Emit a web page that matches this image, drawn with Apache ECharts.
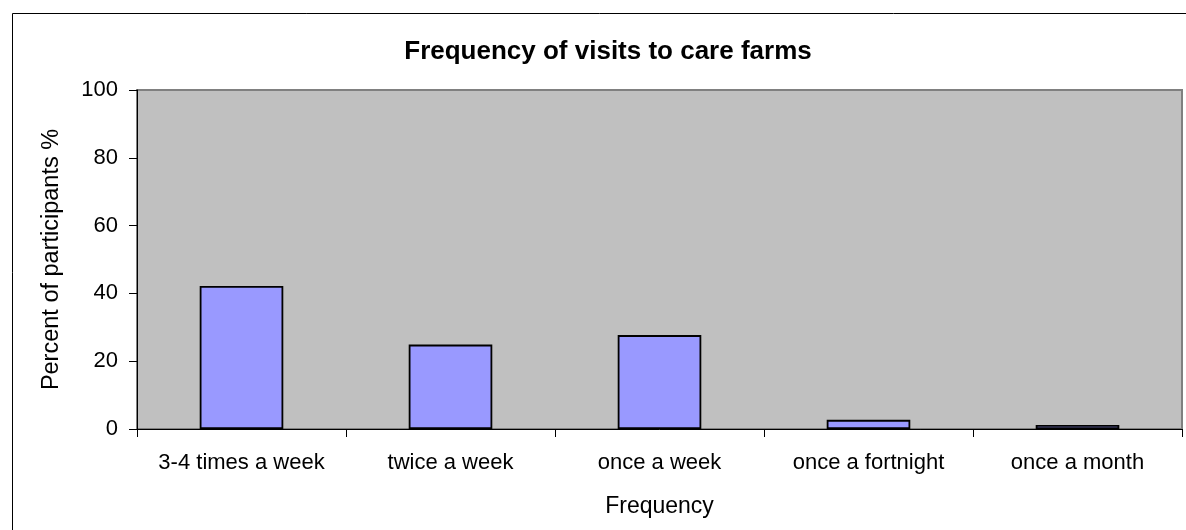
<!DOCTYPE html>
<html>
<head>
<meta charset="utf-8">
<script src="https://cdn.jsdelivr.net/npm/echarts@6/dist/echarts.min.js"></script>
<style>
html,body{margin:0;padding:0;background:#fff;}
#c{width:1186px;height:530px;}
</style>
</head>
<body>
<div id="c"></div>
<script>
const categories = ["3-4 times a week", "twice a week", "once a week", "once a fortnight", "once a month"];
const percentValues = [42.2, 24.9, 27.7, 2.7, 1.2];
const chartTitle = "Frequency of visits to care farms";
const xAxisName = "Frequency";
const yAxisName = "Percent of participants %";

const chart = echarts.init(document.getElementById('c'));
const font = "Arial, 'Liberation Sans', sans-serif";
chart.setOption({
  animation: false,
  backgroundColor: '#ffffff',
  title: {
    text: chartTitle,
    left: 603, top: 34, textAlign: 'center',
    textStyle: {fontFamily: font, fontSize: 26, fontWeight: 'bold', color: '#000'}
  },
  graphic: [{
    type: 'rect', silent: true,
    shape: {x: 12.5, y: 13.5, width: 1300, height: 700},
    style: {fill: 'none', stroke: '#000', lineWidth: 1}
  }],
  grid: {
    left: 137, right: 4, top: 90, bottom: 101,
    show: true, backgroundColor: '#C0C0C0', borderColor: '#808080', borderWidth: 2
  },
  xAxis: {
    type: 'category', data: categories,
    name: xAxisName, nameLocation: 'middle', nameGap: 66,
    nameTextStyle: {fontFamily: font, fontSize: 23, color: '#000'},
    axisLine: {lineStyle: {color: '#000', width: 1}},
    axisTick: {show: true, length: 8, lineStyle: {color: '#000'}, interval: 0},
    axisLabel: {fontFamily: font, fontSize: 22, color: '#000', margin: 23, interval: 0}
  },
  yAxis: {
    type: 'value', min: 0, max: 100, interval: 20,
    name: yAxisName, nameLocation: 'middle', nameGap: 73, nameRotate: 90,
    nameTextStyle: {fontFamily: font, fontSize: 23.5, color: '#000'},
    axisLine: {show: true, lineStyle: {color: '#000', width: 1}},
    axisTick: {show: true, length: 8, lineStyle: {color: '#000'}},
    splitLine: {show: false},
    axisLabel: {fontFamily: font, fontSize: 22, color: '#000', margin: 19}
  },
  series: [{
    type: 'bar', data: percentValues, barWidth: '40%',
    itemStyle: {color: '#9999FF', borderColor: '#000', borderWidth: 1.8}
  }]
});
</script>
</body>
</html>
